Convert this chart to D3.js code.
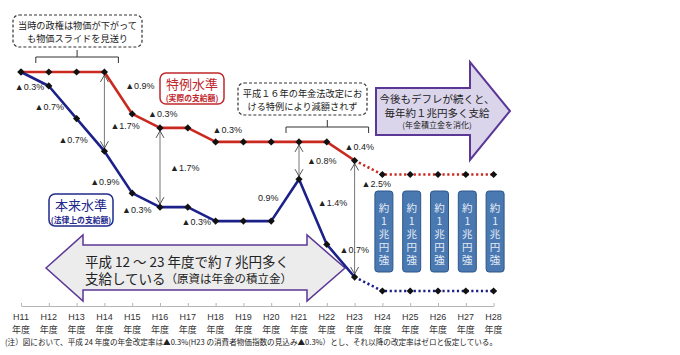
<!DOCTYPE html>
<html><head><meta charset="utf-8">
<script src="https://cdn.jsdelivr.net/npm/d3@7"></script>
<style>body{margin:0;background:#fff}svg{display:block}</style>
</head><body>
<svg id="chart" width="680" height="355"></svg>
<script>
// ---- data ----
const years = ["H11","H12","H13","H14","H15","H16","H17","H18","H19","H20","H21","H22","H23","H24","H25","H26","H27","H28"];
const yearUnit = "年度";
// index level (H11 = 100)
const specialLevel  = [100,100,100,100,99.1,98.8,98.8,98.5,98.5,98.5,98.5,98.5,98.1,97.8,97.8,97.8,97.8,97.8];
const originalLevel = [100,99.7,99.0,98.3,97.4,97.1,97.1,96.8,96.8,96.8,97.7,96.3,95.6,95.3,95.3,95.3,95.3,95.3];
const lastActual = "H23";
// change labels per year (change from previous year)
const specialChange  = ["","","","","▲0.9%","▲0.3%","","▲0.3%","","","","","▲0.4%","","","","",""];
const originalChange = ["","▲0.3%","▲0.7%","▲0.7%","▲0.9%","▲0.3%","","▲0.3%","","","0.9%","▲1.4%","▲0.7%","","","","",""];
// gap between the two levels
const gapYears  = ["H14","H16","H21","H23"];
const gapLabels = ["▲1.7%","▲1.7%","▲0.8%","▲2.5%"];
const extraYears = ["H24","H25","H26","H27","H28"];
const extraText  = ["約","1","兆","円","強"];
const note1 = ["当時の政権は物価が下がって","も物価スライドを見送り"];
const note2 = ["平成１６年の年金法改定にお","ける特例により減額されず"];
const futureText = ["今後もデフレが続くと、","毎年約１兆円多く支給","(年金積立金を消化)"];
const pastText1 = "平成 12 ～ 23 年度で約 7 兆円多く";
const pastText2a = "支給している";
const pastText2b = "（原資は年金の積立金）";
const specialName = ["特例水準","(実際の支給額)"];
const originalName = ["本来水準","(法律上の支給額)"];
const footnote = "(注）図において、平成 24 年度の年金改定率は▲0.3%(H23 の消費者物価指数の見込み▲0.3%）とし、それ以降の改定率はゼロと仮定している。";

// ---- layout ----
const svg = d3.select("#chart");
const JP = "'Noto Sans CJK JP','Noto Sans',sans-serif";
const LAT = "'Liberation Sans','Noto Sans CJK JP',sans-serif";
const RED = "#c9291f", BLUE = "#1b2189", PURPLE = "#5b3796";

const x = d3.scalePoint().domain(years).range([21, 493.6]);
const y = d3.scaleLinear().domain([95.3, 100]).range([291, 72]);
const axisY = 306;

// axis
const axis = d3.axisBottom(x).tickSize(-3).tickSizeOuter(0).tickFormat("");
const gAx = svg.append("g").attr("transform", `translate(0,${axisY})`).call(axis);
gAx.select(".domain").attr("stroke", "#b5b5b5");
gAx.selectAll(".tick line").attr("stroke", "#b5b5b5");
const lab = svg.append("g").attr("font-family", JP).attr("font-size", 9).attr("fill", "#333").attr("text-anchor", "middle");
years.forEach(d => {
  lab.append("text").attr("x", x(d)).attr("y", 317).attr("dominant-baseline", "central").attr("font-family", LAT).text(d);
  lab.append("text").attr("x", x(d)).attr("y", 329.5).attr("dominant-baseline", "central").text(yearUnit);
});
svg.append("text").attr("x", 5).attr("y", 341.5).attr("dominant-baseline", "central")
  .attr("font-family", JP).attr("font-size", 7.8).attr("fill", "#222")
  .attr("textLength", 492).attr("lengthAdjust", "spacingAndGlyphs").text(footnote);

// big gray double arrow (past)
svg.append("path")
  .attr("d", "M46,268 L83,235 L83,245 L307,245 L307,235 L345,268 L307,301 L307,290 L83,290 L83,301 Z")
  .attr("fill", "#ececec").attr("stroke", PURPLE).attr("stroke-width", 1.5).attr("stroke-linejoin", "miter");
svg.append("text").attr("x", 85).attr("y", 261).attr("dominant-baseline", "central")
  .attr("font-family", JP).attr("font-size", 13.5).attr("fill", "#222").text(pastText1);
const t2 = svg.append("text").attr("x", 85).attr("y", 278).attr("dominant-baseline", "central")
  .attr("font-family", JP).attr("fill", "#222");
t2.append("tspan").attr("font-size", 13.5).text(pastText2a);
t2.append("tspan").attr("font-size", 11.5).text(pastText2b);

// purple arrow (future)
svg.append("path")
  .attr("d", "M376,88 L470,88 L470,62 L510,111 L470,160 L470,135 L376,135 Z")
  .attr("fill", "#dad5eb").attr("stroke", PURPLE).attr("stroke-width", 2);
futureText.forEach((t, i) => {
  svg.append("text").attr("x", 437).attr("y", [98, 112, 124.5][i]).attr("dominant-baseline", "central")
    .attr("text-anchor", "middle").attr("font-family", JP).attr("font-size", i < 2 ? 10.5 : 8)
    .attr("fill", "#222").text(t);
});

// dashed notes with brackets
function note(lines, bx, by, bw, bh, br) {
  svg.append("rect").attr("x", bx).attr("y", by).attr("width", bw).attr("height", bh).attr("rx", 6)
    .attr("fill", "#fff").attr("stroke", "#333").attr("stroke-width", 1.2).attr("stroke-dasharray", "3,2");
  lines.forEach((t, i) => svg.append("text").attr("x", bx + bw / 2).attr("y", by + bh / 2 - 6.5 + i * 13)
    .attr("dominant-baseline", "central").attr("text-anchor", "middle")
    .attr("font-family", JP).attr("font-size", 9.2).attr("fill", "#222").text(t));
  const [l, r, top] = br;
  const m = (l + r) / 2;
  svg.append("path").attr("d", `M${l},${top + 6} L${l},${top} L${r},${top} L${r},${top + 6} M${m},${top} L${m},${top - 7}`)
    .attr("fill", "none").attr("stroke", "#333").attr("stroke-width", 1);
}
note(note1, 13, 15, 129, 32, [x("H12") - 13, x("H14") + 14, 57]);
note(note2, 238, 83, 129, 32, [x("H21") - 13, x("H23") + 14, 127]);

// series name boxes
function nameBox(names, color, bx, by, bw, bh) {
  svg.append("rect").attr("x", bx).attr("y", by).attr("width", bw).attr("height", bh).attr("rx", 6)
    .attr("fill", "#fff").attr("stroke", color).attr("stroke-width", 1.5);
  svg.append("text").attr("x", bx + bw / 2).attr("y", by + 10).attr("dominant-baseline", "central")
    .attr("text-anchor", "middle").attr("font-family", JP).attr("font-size", 13).attr("fill", color).text(names[0]);
  svg.append("text").attr("x", bx + bw / 2).attr("y", by + bh - 6.5).attr("dominant-baseline", "central")
    .attr("text-anchor", "middle").attr("font-family", JP).attr("font-size", 7.8).attr("font-weight", "bold")
    .attr("fill", color).text(names[1]);
}
nameBox(specialName, "#c0282d", 160, 73, 64, 31);
nameBox(originalName, "#1f2a8c", 49, 194, 64, 32);

// blue boxes
extraYears.forEach(d => {
  svg.append("rect").attr("x", x(d) - 7.5).attr("y", 191).attr("width", 18).attr("height", 81).attr("rx", 3)
    .attr("fill", "#4a78b1").attr("stroke", "#2e5789").attr("stroke-width", 1);
  extraText.forEach((c, i) => svg.append("text").attr("x", x(d) + 1.5).attr("y", 207 + i * 13.2)
    .attr("dominant-baseline", "central").attr("text-anchor", "middle")
    .attr("font-family", JP).attr("font-size", 10.5).attr("fill", "#e4ecf6").text(c));
});

// gap arrows
const gapDy = [14, 0, 0, -35], gapDx = [6, 10, 8, 7];
gapYears.forEach((d, k) => {
  const i = years.indexOf(d);
  const x0 = x(d), y0 = y(specialLevel[i]) + 3, y1 = y(originalLevel[i]) - 3;
  svg.append("line").attr("x1", x0).attr("x2", x0).attr("y1", y0).attr("y2", y1).attr("stroke", "#777").attr("stroke-width", 1);
  svg.append("path").attr("d", `M${x0 - 4},${y0 + 7} L${x0},${y0} L${x0 + 4},${y0 + 7} M${x0 - 4},${y1 - 7} L${x0},${y1} L${x0 + 4},${y1 - 7}`)
    .attr("fill", "none").attr("stroke", "#555").attr("stroke-width", 1);
  svg.append("text").attr("x", x0 + gapDx[k]).attr("y", (y0 + y1) / 2 + gapDy[k]).attr("dominant-baseline", "central")
    .attr("font-family", LAT).attr("font-size", 9).attr("fill", "#222").text(gapLabels[k]);
});

// lines
const idx = years.indexOf(lastActual);
const line = d3.line().x(d => x(d.k)).y(d => y(d.v));
function series(vals, color) {
  const pts = vals.map((v, i) => ({ k: years[i], v }));
  svg.append("path").datum(pts.slice(0, idx + 1)).attr("d", line).attr("fill", "none")
    .attr("stroke", color).attr("stroke-width", 2.6).attr("stroke-linejoin", "round");
  svg.append("path").datum(pts.slice(idx)).attr("d", line).attr("fill", "none")
    .attr("stroke", color).attr("stroke-width", 2.6).attr("stroke-dasharray", "2.2,2.6");
  svg.append("g").selectAll("path").data(pts).join("path")
    .attr("d", d3.symbol(d3.symbolSquare, 26))
    .attr("transform", d => `translate(${x(d.k)},${y(d.v)}) rotate(45)`).attr("fill", "#111");
}
series(specialLevel, RED);
series(originalLevel, BLUE);

// change labels
const specOff = { "H15": [-7, -28], "H16": [-12, -14], "H18": [-3, -12], "H23": [-10, -14] };
const origOff = { "H12": [-34, 1], "H13": [-42, -12], "H14": [-46, -11], "H15": [-42, -11], "H16": [-38, 3],
                  "H18": [-34, 1], "H21": [-41, 19], "H22": [-9, -41], "H23": [-15, -27] };
function changeLabels(vals, labels, off) {
  labels.forEach((t, i) => {
    if (!t) return;
    const o = off[years[i]];
    svg.append("text").attr("x", x(years[i]) + o[0]).attr("y", y(vals[i]) + o[1]).attr("dominant-baseline", "central")
      .attr("font-family", LAT).attr("font-size", 9).attr("fill", "#222").text(t);
  });
}
changeLabels(specialLevel, specialChange, specOff);
changeLabels(originalLevel, originalChange, origOff);
</script>
</body></html>
